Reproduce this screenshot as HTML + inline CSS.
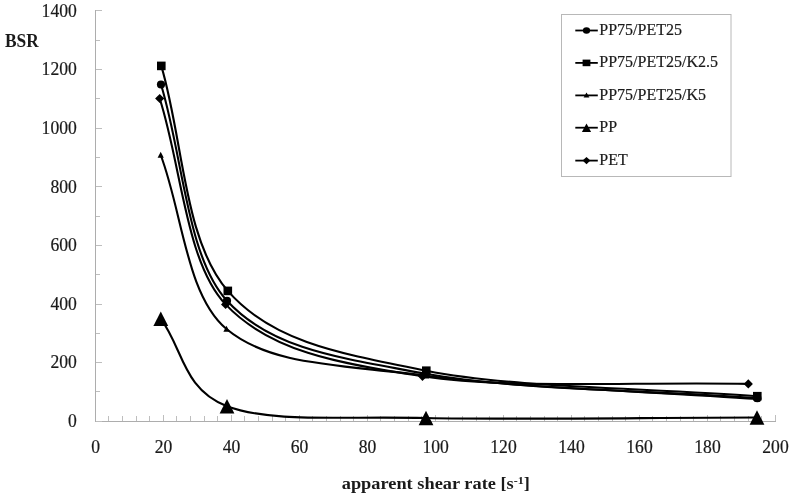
<!DOCTYPE html>
<html><head><meta charset="utf-8"><title>BSR chart</title>
<style>
html,body{margin:0;padding:0;background:#fff;}
body{width:791px;height:498px;position:relative;overflow:hidden;font-family:"Liberation Serif",serif;color:#1a1a1a;}
.yl{position:absolute;left:0;width:76.8px;text-align:right;font-size:17.6px;line-height:20px;height:20px;transform:scaleY(1.08);-webkit-text-stroke:0.2px #1a1a1a;}
.xl{position:absolute;top:436.9px;width:60px;text-align:center;font-size:17.6px;line-height:20px;height:20px;transform:scaleY(1.08);-webkit-text-stroke:0.2px #1a1a1a;}
.lg{position:absolute;left:599.3px;font-size:16px;line-height:20px;height:20px;white-space:nowrap;transform:scaleY(1.04);-webkit-text-stroke:0.2px #1a1a1a;}
.bsr{position:absolute;left:5px;top:31px;font-size:17.4px;transform:scaleY(1.03);font-weight:bold;line-height:20px;}
.xt{position:absolute;left:235.8px;width:400px;text-align:center;top:472.8px;font-size:18.35px;font-weight:bold;line-height:20px;white-space:nowrap;transform:scaleY(0.93);transform-origin:50% 16.3px;}
.xt sup{font-size:12px;line-height:0;vertical-align:baseline;position:relative;top:-4.8px;}
#t{position:absolute;left:0;top:0;width:791px;height:498px;will-change:transform;}
</style></head><body>
<svg width="791" height="498" viewBox="0 0 791 498" style="position:absolute;left:0;top:0">
<g stroke="#adadad" stroke-width="1" fill="none" shape-rendering="crispEdges"><path d="M95.5 10 V421.5 H776"/><path stroke="#bebebe" d="M96 421.5 h6M96 391.5 h4M96 362.5 h6M96 333.5 h4M96 304.5 h6M96 274.5 h4M96 245.5 h6M96 216.5 h4M96 186.5 h6M96 157.5 h4M96 128.5 h6M96 98.5 h4M96 69.5 h6M96 40.5 h4M96 10.5 h6M108.5 421 v-4.8M122.5 421 v-4.8M136.5 421 v-4.8M149.5 421 v-4.8M163.5 421 v-6.5M176.5 421 v-4.8M190.5 421 v-4.8M204.5 421 v-4.8M217.5 421 v-4.8M231.5 421 v-6.5M244.5 421 v-4.8M258.5 421 v-4.8M272.5 421 v-4.8M285.5 421 v-4.8M299.5 421 v-6.5M312.5 421 v-4.8M326.5 421 v-4.8M340.5 421 v-4.8M353.5 421 v-4.8M367.5 421 v-6.5M380.5 421 v-4.8M394.5 421 v-4.8M408.5 421 v-4.8M421.5 421 v-4.8M435.5 421 v-6.5M448.5 421 v-4.8M462.5 421 v-4.8M476.5 421 v-4.8M489.5 421 v-4.8M503.5 421 v-6.5M516.5 421 v-4.8M530.5 421 v-4.8M544.5 421 v-4.8M557.5 421 v-4.8M571.5 421 v-6.5M584.5 421 v-4.8M598.5 421 v-4.8M612.5 421 v-4.8M625.5 421 v-4.8M639.5 421 v-6.5M652.5 421 v-4.8M666.5 421 v-4.8M680.5 421 v-4.8M693.5 421 v-4.8M707.5 421 v-6.5M720.5 421 v-4.8M734.5 421 v-4.8M748.5 421 v-4.8M761.5 421 v-4.8M775.5 421 v-6.5"/></g>
<rect x="561.5" y="14.5" width="169.5" height="162" fill="#fff" stroke="#b8b8b8" stroke-width="1"/>
<path d="M161.00 84.50 C183.00 156.60 186.72 256.83 227.00 300.80 C271.17 349.02 337.62 357.57 426.00 373.80 C514.38 390.03 646.87 390.07 757.30 398.20" fill="none" stroke="#000" stroke-width="2.1" stroke-linejoin="round"/>
<g fill="#000"><circle cx="161.0" cy="84.5" r="4.1"/><circle cx="227.0" cy="300.8" r="4.1"/><circle cx="426.0" cy="373.8" r="4.1"/><circle cx="757.3" cy="398.2" r="4.1"/></g>
<path d="M161.30 65.90 C183.47 140.90 183.63 240.10 227.80 290.90 C271.97 341.70 338.05 353.15 426.30 370.70 C514.55 388.25 646.97 387.70 757.30 396.20" fill="none" stroke="#000" stroke-width="2.1" stroke-linejoin="round"/>
<g fill="#000"><rect x="157.0" y="61.6" width="8.6" height="8.6"/><rect x="223.5" y="286.6" width="8.6" height="8.6"/><rect x="422.0" y="366.4" width="8.6" height="8.6"/><rect x="753.0" y="391.9" width="8.6" height="8.6"/></g>
<path d="M160.70 155.00 C182.63 213.00 186.17 295.44 226.50 329.00 C270.72 365.80 337.53 364.13 426.00 375.80 C514.47 387.47 646.87 391.27 757.30 399.00" fill="none" stroke="#000" stroke-width="2.1" stroke-linejoin="round"/>
<g fill="#000"><path d="M160.7 151.8 l3.1 6 h-6.2z"/><path d="M226.5 325.8 l3.1 6 h-6.2z"/><path d="M426.0 372.6 l3.1 6 h-6.2z"/><path d="M757.3 395.8 l3.1 6 h-6.2z"/></g>
<path d="M160.80 318.80 C182.87 347.93 182.80 389.67 227.00 406.20 C271.20 422.73 337.67 416.12 426.00 418.00 C514.33 419.88 646.67 417.67 757.00 417.50" fill="none" stroke="#000" stroke-width="2.1" stroke-linejoin="round"/>
<g fill="#000"><path d="M160.8 311.6 l7.4 14.4 h-14.8z"/><path d="M227.0 399.0 l7.4 14.4 h-14.8z"/><path d="M426.0 410.8 l7.4 14.4 h-14.8z"/><path d="M757.0 410.3 l7.4 14.4 h-14.8z"/></g>
<path d="M159.70 98.50 C181.67 167.13 185.65 262.17 225.60 304.40 C269.40 350.70 335.38 363.05 422.50 376.30 C509.62 389.55 639.70 381.37 748.30 383.90" fill="none" stroke="#000" stroke-width="2.1" stroke-linejoin="round"/>
<g fill="#000"><path d="M159.7 93.9 l4.6 4.6 l-4.6 4.6 l-4.6 -4.6z"/><path d="M225.6 299.8 l4.6 4.6 l-4.6 4.6 l-4.6 -4.6z"/><path d="M422.5 371.7 l4.6 4.6 l-4.6 4.6 l-4.6 -4.6z"/><path d="M748.3 379.3 l4.6 4.6 l-4.6 4.6 l-4.6 -4.6z"/></g>
<path d="M575.3 30.5 H597.8" stroke="#000" stroke-width="1.8"/>
<g fill="#000"><ellipse cx="586.5" cy="30.5" rx="3.6" ry="3.3"/></g>
<path d="M575.3 62.9 H597.8" stroke="#000" stroke-width="1.8"/>
<g fill="#000"><rect x="582.6" y="59.6" width="7.8" height="6.6"/></g>
<path d="M575.3 95.4 H597.8" stroke="#000" stroke-width="1.8"/>
<g fill="#000"><path d="M586.5 92.6 l2.9 5 h-5.8z"/></g>
<path d="M575.3 127.7 H597.8" stroke="#000" stroke-width="1.8"/>
<g fill="#000"><path d="M586.5 123.6 l4.6 8.5 h-9.2z"/></g>
<path d="M575.3 160.6 H597.8" stroke="#000" stroke-width="1.8"/>
<g fill="#000"><path d="M586.5 156.9 l3.9 3.7 l-3.9 3.7 l-3.9 -3.7z"/></g>
</svg><div id="t"><div class="yl" style="top:411.0px">0</div><div class="yl" style="top:352.4px">200</div><div class="yl" style="top:293.8px">400</div><div class="yl" style="top:235.2px">600</div><div class="yl" style="top:176.5px">800</div><div class="yl" style="top:117.9px">1000</div><div class="yl" style="top:59.3px">1200</div><div class="yl" style="top:0.7px">1400</div><div class="xl" style="left:65.6px">0</div><div class="xl" style="left:133.6px">20</div><div class="xl" style="left:201.6px">40</div><div class="xl" style="left:269.6px">60</div><div class="xl" style="left:337.6px">80</div><div class="xl" style="left:405.6px">100</div><div class="xl" style="left:473.5px">120</div><div class="xl" style="left:541.5px">140</div><div class="xl" style="left:609.5px">160</div><div class="xl" style="left:677.5px">180</div><div class="xl" style="left:745.5px">200</div><div class="lg" style="top:20.0px">PP75/PET25</div><div class="lg" style="top:52.4px">PP75/PET25/K2.5</div><div class="lg" style="top:84.9px">PP75/PET25/K5</div><div class="lg" style="top:117.2px">PP</div><div class="lg" style="top:150.1px">PET</div>
<div class="bsr">BSR</div>
<div class="xt">apparent shear rate [s<sup>-1</sup>]</div>
</div>
</body></html>
